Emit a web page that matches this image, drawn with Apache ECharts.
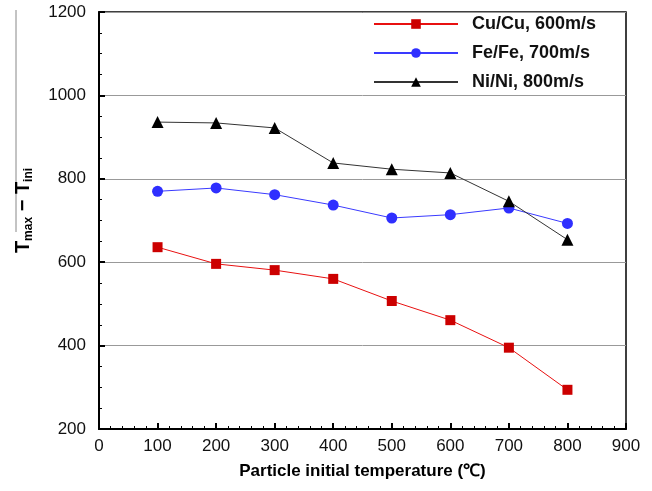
<!DOCTYPE html>
<html><head><meta charset="utf-8">
<script src="https://cdn.jsdelivr.net/npm/echarts@6/dist/echarts.min.js"></script>
<style>html,body{margin:0;padding:0;background:#fff}#c{width:652px;height:491px}</style>
</head><body><div id="c"></div>
<script>
var temps = [100, 200, 300, 400, 500, 600, 700, 800];
var cuValues = [636, 596, 581, 560, 507, 461, 395, 294];
var feValues = [770, 778, 762, 737, 706, 714, 730, 693];
var niValues = [936, 934, 922, 838, 823, 814, 746, 654];
var seriesNames = ['Cu/Cu, 600m/s', 'Fe/Fe, 700m/s', 'Ni/Ni, 800m/s'];

function pairs(v){ return temps.map(function(t,i){ return [t, v[i]]; }); }
var F = 'Liberation Sans, Arial, sans-serif';
var chart = echarts.init(document.getElementById('c'));
chart.setOption({
  animation:false,
  grid:{left:99, right:26, top:12, bottom:62, show:true, borderColor:'#000', borderWidth:1.5, backgroundColor:'transparent'},
  legend:{
    orient:'vertical', left:368, top:10, itemWidth:84, itemHeight:12, itemGap:11,
    textStyle:{fontFamily:F, fontSize:18, fontWeight:'bold', color:'#111', padding:[0,0,0,9]},
    data:seriesNames
  },
  xAxis:{
    type:'value', min:0, max:900, interval:100,
    name:'Particle initial temperature (℃)', nameLocation:'middle', nameGap:34,
    nameTextStyle:{fontFamily:F, fontSize:17, fontWeight:'bold', color:'#000'},
    axisLine:{show:true, lineStyle:{color:'#000', width:2}},
    axisTick:{show:true, inside:true, length:6, lineStyle:{color:'#000', width:2}},
    minorTick:{show:true, splitNumber:5, length:3, lineStyle:{color:'#000', width:1}},
    axisLabel:{fontFamily:F, fontSize:17, color:'#111', margin:9},
    splitLine:{show:false}
  },
  yAxis:{
    type:'value', min:200, max:1200, interval:200,
    name:'{t|T}{s|max}{t| − T}{s|ini}', nameLocation:'middle', nameGap:64, nameRotate:90,
    nameTextStyle:{padding:[0,0,0,20], rich:{
      t:{fontFamily:F, fontSize:20, fontWeight:'bold', color:'#000', lineHeight:24, verticalAlign:'middle'},
      s:{fontFamily:F, fontSize:12, fontWeight:'bold', color:'#000', lineHeight:12, verticalAlign:'bottom', padding:[8,0,0,0]}
    }},
    axisLine:{show:true, lineStyle:{color:'#000', width:2}},
    axisTick:{show:true, inside:true, length:6, lineStyle:{color:'#000', width:2}},
    minorTick:{show:true, splitNumber:4, length:3, lineStyle:{color:'#000', width:1}},
    axisLabel:{fontFamily:F, fontSize:17, color:'#111', margin:13, formatter:function(v){return String(v);}},
    splitLine:{show:true, lineStyle:{color:'#999', width:1}}
  },
  graphic:[{type:'line', shape:{x1:16, y1:10, x2:16, y2:232}, style:{stroke:'#888', lineWidth:1}}],
  series:[
    {name:seriesNames[0], type:'line', data:pairs(cuValues), symbol:'rect', symbolSize:10,
     lineStyle:{color:'#e81010', width:1}, itemStyle:{color:'#cc0000'}},
    {name:seriesNames[1], type:'line', data:pairs(feValues), symbol:'circle', symbolSize:11,
     lineStyle:{color:'#3a3aff', width:1}, itemStyle:{color:'#2f2fff'}},
    {name:seriesNames[2], type:'line', data:pairs(niValues), symbol:'triangle', symbolSize:12,
     lineStyle:{color:'#333', width:1}, itemStyle:{color:'#000'}}
  ]
});
</script></body></html>
